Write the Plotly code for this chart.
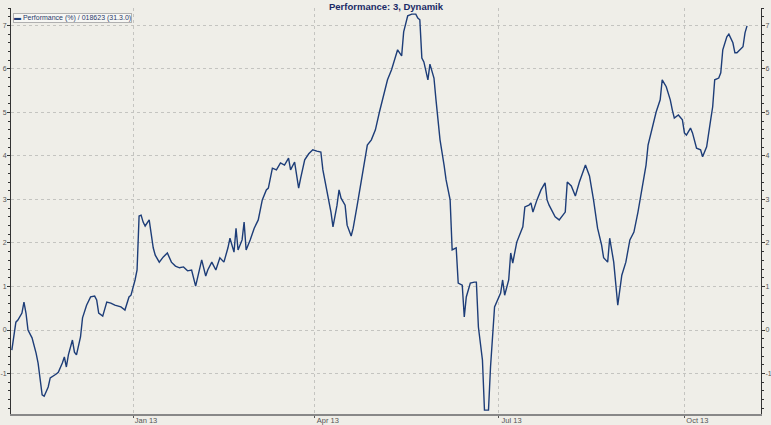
import plotly.graph_objects as go

# ---- data ----
dates = [
    "2012-11-02", "2012-11-04", "2012-11-05", "2012-11-07", "2012-11-08", "2012-11-09", "2012-11-10",
    "2012-11-12", "2012-11-14", "2012-11-15", "2012-11-17", "2012-11-18", "2012-11-20", "2012-11-21",
    "2012-11-24", "2012-11-25", "2012-11-27", "2012-11-28", "2012-11-29", "2012-11-30", "2012-12-02",
    "2012-12-03", "2012-12-04", "2012-12-06", "2012-12-07", "2012-12-09", "2012-12-11", "2012-12-13",
    "2012-12-14", "2012-12-15", "2012-12-17", "2012-12-19", "2012-12-21", "2012-12-23", "2012-12-26",
    "2012-12-28", "2012-12-30", "2012-12-31", "2013-01-02", "2013-01-03", "2013-01-04", "2013-01-05",
    "2013-01-06", "2013-01-07", "2013-01-09", "2013-01-11", "2013-01-12", "2013-01-14", "2013-01-16",
    "2013-01-18", "2013-01-20", "2013-01-22", "2013-01-24", "2013-01-26", "2013-01-28", "2013-01-30",
    "2013-02-01", "2013-02-02", "2013-02-04", "2013-02-06", "2013-02-07", "2013-02-09", "2013-02-11",
    "2013-02-13", "2013-02-15", "2013-02-17", "2013-02-18", "2013-02-20", "2013-02-21", "2013-02-22",
    "2013-02-24", "2013-02-25", "2013-02-26", "2013-02-28", "2013-03-02", "2013-03-04", "2013-03-06",
    "2013-03-08", "2013-03-09", "2013-03-11", "2013-03-13", "2013-03-15", "2013-03-17", "2013-03-19",
    "2013-03-20", "2013-03-22", "2013-03-24", "2013-03-25", "2013-03-27", "2013-03-29", "2013-03-31",
    "2013-04-02", "2013-04-04", "2013-04-05", "2013-04-07", "2013-04-09", "2013-04-10", "2013-04-12",
    "2013-04-13", "2013-04-14", "2013-04-16", "2013-04-17", "2013-04-19", "2013-04-20", "2013-04-22",
    "2013-04-24", "2013-04-25", "2013-04-27", "2013-04-29", "2013-05-01", "2013-05-03", "2013-05-05",
    "2013-05-07", "2013-05-09", "2013-05-11", "2013-05-12", "2013-05-14", "2013-05-15", "2013-05-17",
    "2013-05-19", "2013-05-21", "2013-05-22", "2013-05-23", "2013-05-24", "2013-05-25", "2013-05-27",
    "2013-05-28", "2013-05-30", "2013-05-31", "2013-06-02", "2013-06-04", "2013-06-05", "2013-06-07",
    "2013-06-08", "2013-06-10", "2013-06-11", "2013-06-13", "2013-06-14", "2013-06-15", "2013-06-17",
    "2013-06-19", "2013-06-20", "2013-06-21", "2013-06-23", "2013-06-24", "2013-06-26", "2013-06-27",
    "2013-06-29", "2013-07-02", "2013-07-03", "2013-07-04", "2013-07-06", "2013-07-07", "2013-07-08",
    "2013-07-10", "2013-07-13", "2013-07-14", "2013-07-16", "2013-07-17", "2013-07-18", "2013-07-20",
    "2013-07-22", "2013-07-24", "2013-07-25", "2013-07-26", "2013-07-29", "2013-07-31", "2013-08-03",
    "2013-08-04", "2013-08-06", "2013-08-08", "2013-08-10", "2013-08-13", "2013-08-15", "2013-08-17",
    "2013-08-19", "2013-08-21", "2013-08-22", "2013-08-24", "2013-08-25", "2013-08-27", "2013-08-29",
    "2013-08-31", "2013-09-02", "2013-09-04", "2013-09-06", "2013-09-08", "2013-09-10", "2013-09-12",
    "2013-09-13", "2013-09-15", "2013-09-17", "2013-09-19", "2013-09-20", "2013-09-22", "2013-09-24",
    "2013-09-25", "2013-09-26", "2013-09-28", "2013-09-30", "2013-10-01", "2013-10-02", "2013-10-04",
    "2013-10-05", "2013-10-07", "2013-10-09", "2013-10-10", "2013-10-12", "2013-10-14", "2013-10-15",
    "2013-10-16", "2013-10-18", "2013-10-19", "2013-10-20", "2013-10-22", "2013-10-23", "2013-10-25",
    "2013-10-26", "2013-10-27", "2013-10-30", "2013-10-31", "2013-11-01",
]

performance = [
    -0.46, 0.18, 0.23, 0.39, 0.64, 0.39, 0.00,
    -0.18, -0.53, -0.76, -1.49, -1.52, -1.31, -1.10,
    -1.01, -0.97, -0.76, -0.62, -0.85, -0.57, -0.23,
    -0.51, -0.57, -0.16, 0.28, 0.57, 0.76, 0.78,
    0.69, 0.39, 0.32, 0.64, 0.62, 0.57, 0.53,
    0.46, 0.76, 0.80, 1.15, 1.38, 2.62, 2.64,
    2.48, 2.39, 2.53, 1.89, 1.72, 1.56, 1.68,
    1.77, 1.56, 1.47, 1.43, 1.45, 1.36, 1.38,
    1.01, 1.20, 1.61, 1.24, 1.38, 1.56, 1.38,
    1.66, 1.56, 1.89, 2.11, 1.79, 2.34, 1.84,
    2.07, 2.48, 1.84, 2.07, 2.34, 2.53, 2.99,
    3.22, 3.26, 3.72, 3.68, 3.84, 3.79, 3.95,
    3.68, 3.86, 3.26, 3.49, 3.91, 4.05, 4.14,
    4.11, 4.09, 3.68, 3.22, 2.71, 2.37, 2.87,
    3.22, 3.03, 2.87, 2.41, 2.16, 2.34, 2.87,
    3.45, 3.72, 4.25, 4.37, 4.60, 5.01, 5.40,
    5.75, 5.98, 6.32, 6.44, 6.30, 6.85, 7.22,
    7.26, 7.26, 7.17, 7.13, 6.25, 6.16, 5.75,
    6.11, 5.79, 5.29, 4.37, 3.79, 3.45, 2.99,
    1.84, 1.89, 1.08, 1.03, 0.30, 0.76, 1.08,
    1.10, 1.10, 0.07, -0.69, -1.84, -1.84, -0.85,
    0.53, 0.85, 1.15, 0.80, 1.15, 1.77, 1.54,
    2.02, 2.37, 2.83, 2.87, 2.92, 2.71, 2.99,
    3.22, 3.38, 2.99, 2.87, 2.60, 2.53, 2.71,
    3.40, 3.31, 3.08, 3.40, 3.79, 3.54, 2.99,
    2.34, 1.95, 1.66, 1.56, 2.11, 1.56, 0.57,
    1.26, 1.56, 2.07, 2.25, 2.71, 3.26, 3.79,
    4.25, 4.60, 5.01, 5.29, 5.75, 5.59, 5.29,
    5.06, 4.87, 4.94, 4.83, 4.53, 4.48, 4.64,
    4.53, 4.18, 4.14, 3.98, 4.21, 4.83, 5.13,
    5.75, 5.79, 5.91, 6.44, 6.74, 6.80, 6.60,
    6.37, 6.37, 6.51, 6.83, 6.99,
]

y_ticks = [-1, 0, 1, 2, 3, 4, 5, 6, 7]
x_ticks = ["2013-01-01", "2013-04-01", "2013-07-01", "2013-10-01"]
x_tick_labels = ["Jan 13", "Apr 13", "Jul 13", "Oct 13"]

title_text = "Performance: 3, Dynamik"
legend_text = "Performance (%) / 018623 (31.3.0)"

LINE = "#1d3d78"
BG = "#efeee8"
GRID = "#c4c4c0"
FONT = "Liberation Sans, Arial, sans-serif"

fig = go.Figure()
fig.add_trace(go.Scatter(
    x=dates, y=performance, mode="lines",
    line=dict(color=LINE, width=1.4),
    name=legend_text, showlegend=False, hoverinfo="skip",
))
# invisible copy so the right-hand axis is drawn
fig.add_trace(go.Scatter(
    x=dates, y=performance, mode="lines", yaxis="y2",
    line=dict(color="rgba(0,0,0,0)", width=0),
    showlegend=False, hoverinfo="skip",
))

yaxis_common = dict(
    range=[-1.93, 7.40],
    tickmode="array", tickvals=y_ticks, ticktext=[str(v) for v in y_ticks],
    ticks="outside", ticklen=3, tickcolor="#333", tickwidth=1,
    minor=dict(dtick=0.2, tick0=0, ticks="outside", ticklen=2, tickcolor="#333", showgrid=False),
    showline=True, linecolor="#333", linewidth=1,
    tickfont=dict(family=FONT, size=7, color="#555"),
    ticklabelstandoff=-1,
    zeroline=False, fixedrange=True, automargin=False,
)

fig.update_layout(
    width=771, height=425,
    margin=dict(l=11, r=10, t=8, b=11, autoexpand=False),
    paper_bgcolor=BG, plot_bgcolor=BG,
    showlegend=False,
    xaxis=dict(
        range=["2012-11-01 14:00", "2013-11-07 22:00"],
        tickmode="array", tickvals=x_ticks, ticktext=x_tick_labels,
        ticks="outside", ticklen=2, tickcolor="#555",
        ticklabelshift=13, ticklabelstandoff=-4,
        showgrid=True, gridcolor=GRID, griddash="3px,3px", gridwidth=1,
        showline=True, linecolor="#888", linewidth=1.5,
        tickfont=dict(family=FONT, size=7.5, color="#555"),
        zeroline=False, automargin=False, fixedrange=True,
    ),
    yaxis=dict(
        **yaxis_common,
        side="left",
        showgrid=True, gridcolor=GRID, griddash="3px,3px", gridwidth=1,
    ),
    yaxis2=dict(
        **yaxis_common,
        side="right", overlaying="y", matches="y",
        showgrid=False,
    ),
    annotations=[
        dict(
            text="<b>" + title_text + "</b>",
            xref="paper", yref="paper", x=0.5, y=1, yanchor="middle", yshift=2,
            showarrow=False, font=dict(family=FONT, size=9.5, color="#1a2a66"),
        ),
        dict(
            text="<span style='color:%s'>&#9644;</span> %s" % (LINE, legend_text),
            xref="paper", yref="paper", x=0.003, y=0.988,
            xanchor="left", yanchor="top", showarrow=False,
            font=dict(family=FONT, size=7, color="#2a3a6a"),
            bgcolor="#f7f7f4", bordercolor="#b0b0b0", borderwidth=1, borderpad=0,
        ),
    ],
)

fig.write_html(
    "out.html",
    config={"displayModeBar": False, "staticPlot": True},
    post_script="document.body.style.margin='0';document.body.style.overflow='hidden';document.body.style.background='%s';" % BG,
)
